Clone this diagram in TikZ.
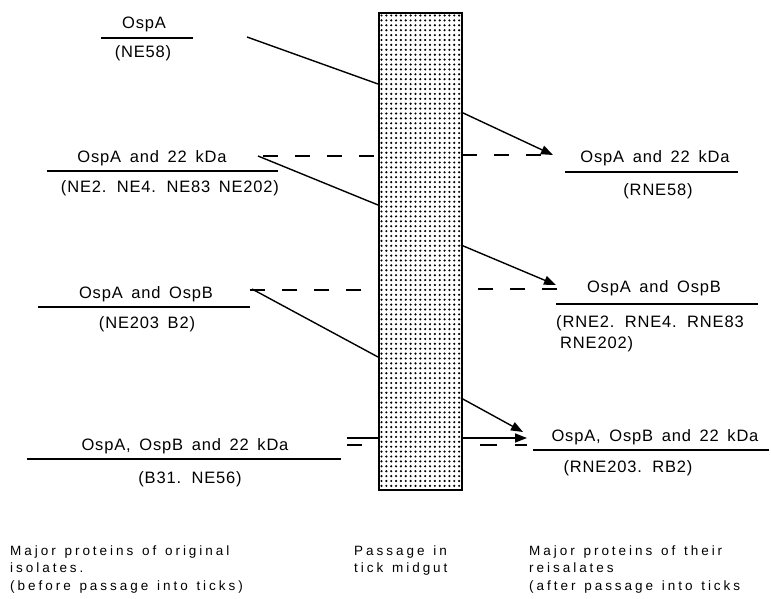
\documentclass[tikz,border=0pt]{standalone}
\usepackage{fontspec}
\setmainfont{Liberation Sans}
\newfontfamily\labfont[LetterSpace=5,WordSpace=1.6]{Liberation Sans}
\newfontfamily\capfont[LetterSpace=22,WordSpace=1.3]{Liberation Sans}
\usetikzlibrary{arrows.meta}
\begin{document}
\begin{tikzpicture}[x=1pt,y=-1pt,
  lab/.style={font=\labfont\fontsize{16.5}{19}\selectfont, inner sep=0pt, anchor=base},
  labw/.style={font=\labfont\fontsize{16.5}{19}\selectfont, inner sep=0pt, anchor=base west},
  capt/.style={font=\capfont\fontsize{13.5}{16}\selectfont, inner sep=0pt, anchor=base west},
  rulel/.style={line width=1.5pt},
  conn/.style={line width=1.4pt},
  dashc/.style={line width=1.4pt, dash pattern=on 15pt off 17pt},
  arr/.style={-{Triangle[length=12pt,width=9pt]}}
]
\useasboundingbox (0,0) rectangle (771,599);

% tick midgut (dotted bar)
\foreach \i in {0,...,16}{
  \foreach \j in {0,...,96}{
    \fill ({381.5+4.85*\i},{15.5+4.9*\j}) circle (1.2pt);
  }
}
\node[draw, line width=1.8pt, minimum width=83pt, minimum height=477pt,
      inner sep=0pt, anchor=north west] (gut) at (378,12) {};

% ---------- left column ----------
\node[lab] (l1a) at (144,29) {OspA};
\node[lab] (l1b) at (143,58) {(NE58)};
\draw[rulel] (101,38) -- (193,38);

\node[lab] (l2a) at (152,163) {OspA and 22 kDa};
\node[lab] (l2b) at (170,193) {(NE2. NE4. NE83 NE202)};
\draw[rulel] (47,171) -- (278,171);

\node[lab] (l3a) at (146,298) {OspA and OspB};
\node[lab] (l3b) at (147,328) {(NE203 B2)};
\draw[rulel] (38,307) -- (250,307);

\node[lab] (l4a) at (185,450) {OspA, OspB and 22 kDa};
\node[lab] (l4b) at (190,483) {(B31. NE56)};
\draw[rulel] (27,459) -- (341,459);

% ---------- right column ----------
\node[lab] (r1a) at (655,163) {OspA and 22 kDa};
\node[lab] (r1b) at (658,195) {(RNE58)};
\draw[rulel] (565,172) -- (738,172);

\node[lab] (r2a) at (654,292) {OspA and OspB};
\node[labw] (r2b) at (556,327) {(RNE2. RNE4. RNE83};
\node[labw] (r2c) at (560,348) {RNE202)};
\draw[rulel] (556,304) -- (758,304);

\node[lab] (r3a) at (655,441) {OspA, OspB and 22 kDa};
\node[lab] (r3b) at (628,472) {(RNE203. RB2)};
\draw[rulel] (533,450) -- (769,450);

% ---------- connector end points ----------
\coordinate (s1) at (247,37);   \coordinate (g1l) at (378,84);
\coordinate (g1r) at (461,112); \coordinate (t1) at (553,155);
\coordinate (s2) at (258,156);  \coordinate (g2l) at (378,205);
\coordinate (g2r) at (461,245); \coordinate (t2) at (556,285);
\coordinate (s3) at (252,289);  \coordinate (g3l) at (378,357);
\coordinate (g3r) at (461,398); \coordinate (t3) at (523,432);
\coordinate (d1a) at (263,156); \coordinate (d1b) at (378,156);
\coordinate (d1c) at (462,155); \coordinate (d1d) at (553,155);
\coordinate (d2a) at (250,290); \coordinate (d2b) at (378,290);
\coordinate (d2c) at (478,289); \coordinate (d2d) at (567,289);
\coordinate (h4a) at (347,438); \coordinate (h4b) at (378,438);
\coordinate (h4c) at (461,438); \coordinate (t4) at (527,438);

% solid connectors
\draw[conn] (s1) -- (g1l);
\draw[conn,arr] (g1r) -- (t1);
\draw[conn] (s2) -- (g2l);
\draw[conn,arr] (g2r) -- (t2);
\draw[conn] (s3) -- (g3l);
\draw[conn,arr] (g3r) -- (t3);
\draw[conn] (h4a) -- (h4b);
\draw[conn,arr] (h4c) -- (t4);

% dashed connectors
\draw[dashc] (d1a) -- (d1b);
\draw[dashc] (d1c) -- (d1d);
\draw[dashc] (d2a) -- (d2b);
\draw[dashc] (d2c) -- (d2d);
\draw[conn] (347,445) -- (362,445);
\draw[conn] (480,445) -- (497,445);
\draw[conn] (515,445) -- (527,445);

% ---------- bottom captions ----------
\node[capt] (c1) at (10,555) {Major proteins of original};
\node[capt] (c2) at (10,572.5) {isolates.};
\node[capt] (c3) at (10,590) {(before passage into ticks)};

\node[capt] (c4) at (354,555) {Passage in};
\node[capt] (c5) at (354,572.5) {tick midgut};

\node[capt] (c6) at (529,555) {Major proteins of their};
\node[capt] (c7) at (529,572.5) {reisalates};
\node[capt] (c8) at (529,590) {(after passage into ticks};
\end{tikzpicture}
\end{document}
